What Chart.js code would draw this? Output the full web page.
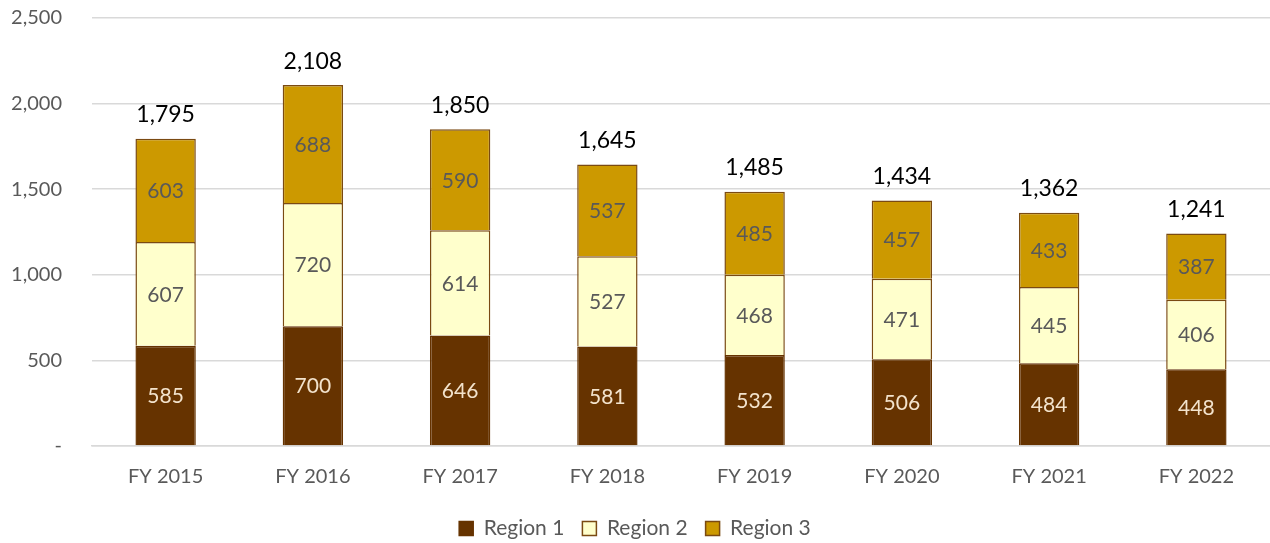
<!DOCTYPE html>
<html>
<head>
<meta charset="utf-8">
<script src="https://cdn.jsdelivr.net/npm/chart.js@4"></script>
<style>
  html, body { margin: 0; padding: 0; background: #fff; }
  #wrap { width: 1270px; height: 543px; }
</style>
</head>
<body>
<div id="wrap"><canvas id="chart"></canvas></div>
<script>
// Chart data
const years = ['FY 2015', 'FY 2016', 'FY 2017', 'FY 2018', 'FY 2019', 'FY 2020', 'FY 2021', 'FY 2022'];
const region1 = [585, 700, 646, 581, 532, 506, 484, 448];
const region2 = [607, 720, 614, 527, 468, 471, 445, 406];
const region3 = [603, 688, 590, 537, 485, 457, 433, 387];
const totals = [1795, 2108, 1850, 1645, 1485, 1434, 1362, 1241];

const FONT = 'Lato, "Open Sans", sans-serif';

/**
 * Draws the value inside each segment and the total above each stack
 */
const valueLabels = {
  id: 'valueLabels',
  afterDatasetsDraw: function(chart) {
    const ctx = chart.ctx;
    ctx.save();
    ctx.textAlign = 'center';
    ctx.textBaseline = 'middle';
    chart.data.datasets.forEach((ds, i) => {
      const meta = chart.getDatasetMeta(i);
      meta.data.forEach((bar, j) => {
        const mid = (bar.y + bar.base) / 2;
        ctx.font = '21px ' + FONT;
        ctx.fillStyle = ds.labelColor;
        ctx.fillText(ds.data[j].toLocaleString('en-US'), bar.x, mid + 1);
      });
    });
    // totals above the top segment
    const top = chart.getDatasetMeta(chart.data.datasets.length - 1);
    ctx.font = '23px ' + FONT;
    ctx.fillStyle = '#000';
    top.data.forEach((bar, j) => {
      ctx.fillText(totals[j].toLocaleString('en-US'), bar.x, bar.y - 24);
    });
    ctx.restore();
  }
};

new Chart(document.getElementById('chart'), {
  type: 'bar',
  data: {
    labels: years,
    datasets: [
      {
        label: 'Region 1',
        data: region1,
        backgroundColor: '#663300',
        borderColor: '#663300',
        labelColor: '#f3e3cc'
      },
      {
        label: 'Region 2',
        data: region2,
        backgroundColor: '#ffffcc',
        borderColor: '#7a4a12',
        labelColor: '#595959'
      },
      {
        label: 'Region 3',
        data: region3,
        backgroundColor: '#cc9900',
        borderColor: '#7a4a12',
        labelColor: '#595959'
      }
    ]
  },
  options: {
    responsive: true,
    maintainAspectRatio: false,
    animation: false,
    datasets: {
      bar: {
        borderWidth: 1.5,
        categoryPercentage: 1,
        barPercentage: 0.41
      }
    },
    layout: { padding: { top: 0, right: 0, left: 0, bottom: -6 } },
    scales: {
      x: {
        stacked: true,
        grid: { display: false },
        border: { color: '#d9d9d9', width: 1.5 },
        ticks: { color: '#595959', font: { family: FONT, size: 20 }, padding: 11 }
      },
      y: {
        stacked: true,
        min: 0,
        max: 2500,
        grid: { color: '#d9d9d9', lineWidth: 1.5, tickLength: 24, tickColor: 'rgba(0,0,0,0)' },
        border: { display: false },
        afterFit: function(scale) { scale.width = 92; },
        ticks: {
          stepSize: 500,
          padding: 6,
          color: '#595959',
          font: { family: FONT, size: 20 },
          callback: function(v) { return v === 0 ? '-' : v.toLocaleString('en-US'); }
        }
      }
    },
    plugins: {
      tooltip: { enabled: false },
      legend: {
        position: 'bottom',
        labels: {
          color: '#595959',
          font: { family: FONT, size: 21 },
          boxWidth: 14,
          boxHeight: 14,
          padding: 18
        }
      }
    }
  },
  plugins: [valueLabels]
});
</script>
</body>
</html>
